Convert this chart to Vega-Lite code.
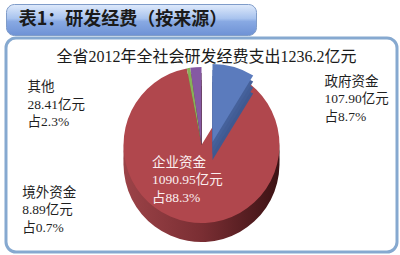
{
  "$schema": "https://vega.github.io/schema/vega-lite/v6.json",
  "background": "white",
  "padding": {"left": 4, "top": 3, "right": 4, "bottom": 4},
  "spacing": 0,
  "config": {"view": {"stroke": null}, "font": "Noto Sans CJK SC"},
  "vconcat": [
    {
      "width": 250,
      "height": 31,
      "view": {
        "fill": {
          "gradient": "linear", "x1": 0, "y1": 0, "x2": 0, "y2": 1,
          "stops": [
            {"offset": 0, "color": "#dfeafb"},
            {"offset": 0.45, "color": "#a8c3ee"},
            {"offset": 0.55, "color": "#88a9e3"},
            {"offset": 1, "color": "#6e92d5"}
          ]
        },
        "stroke": "#7f9cc9",
        "strokeWidth": 1,
        "cornerRadius": 8
      },
      "data": {"values": [{"heading": "表1：研发经费（按来源）"}]},
      "mark": {"type": "text", "font": "Noto Sans CJK SC", "fontSize": 18, "fontWeight": "bold", "color": "#1b1b1b", "dx": -8},
      "encoding": {"text": {"field": "heading", "type": "nominal"}}
    },
    {
      "width": 391,
      "height": 214,
      "view": {"fill": "white", "stroke": "#86a9d0", "strokeWidth": 3, "cornerRadius": 10},
      "title": {
        "text": "全省2012年全社会研发经费支出1236.2亿元",
        "font": "Liberation Serif, Noto Sans CJK SC",
        "fontSize": 16,
        "fontWeight": "normal",
        "color": "#1a1a1a",
        "anchor": "middle",
        "offset": -27,
        "dx": 5
      },
      "data": {
        "values": [
          {"source": "政府资金", "value": 107.90, "pct": 8.7, "idx": 1},
          {"source": "企业资金", "value": 1090.95, "pct": 88.3, "idx": 2},
          {"source": "境外资金", "value": 8.89, "pct": 0.7, "idx": 3},
          {"source": "其他", "value": 28.41, "pct": 2.3, "idx": 4}
        ]
      },
      "transform": [
        {"calculate": "[datum.source, format(datum.value, '.2f') + '亿元', '占' + format(datum.pct, '.1f') + '%']", "as": "label"}
      ],
      "encoding": {
        "theta": {"field": "value", "type": "quantitative", "stack": true},
        "order": {"field": "idx", "type": "quantitative"}
      },
      "layer": [
        {
          "mark": {"type": "arc", "radius": 78, "yOffset": 19,
            "fill": {"gradient": "linear", "x1": 0, "y1": 0, "x2": 1, "y2": 0,
              "stops": [{"offset": 0, "color": "#9c4348"}, {"offset": 0.5, "color": "#7a2e33"}, {"offset": 1, "color": "#3c1214"}]}},
          "encoding": {"fillOpacity": {"condition": {"test": "datum.source === '政府资金'", "value": 0}, "value": 1}}
        },
        {
          "mark": {"type": "arc", "radius": 78, "yOffset": 13,
            "fill": {"gradient": "linear", "x1": 0, "y1": 0, "x2": 1, "y2": 0,
              "stops": [{"offset": 0, "color": "#9c4348"}, {"offset": 0.5, "color": "#7a2e33"}, {"offset": 1, "color": "#3c1214"}]}},
          "encoding": {"fillOpacity": {"condition": {"test": "datum.source === '政府资金'", "value": 0}, "value": 1}}
        },
        {
          "mark": {"type": "arc", "radius": 78, "yOffset": 6,
            "fill": {"gradient": "linear", "x1": 0, "y1": 0, "x2": 1, "y2": 0,
              "stops": [{"offset": 0, "color": "#9c4348"}, {"offset": 0.5, "color": "#7a2e33"}, {"offset": 1, "color": "#3c1214"}]}},
          "encoding": {"fillOpacity": {"condition": {"test": "datum.source === '政府资金'", "value": 0}, "value": 1}}
        },
        {
          "mark": {"type": "arc", "radius": 78},
          "encoding": {
            "color": {"field": "source", "type": "nominal", "legend": null,
              "scale": {"domain": ["政府资金", "企业资金", "境外资金", "其他"], "range": ["#5b7bbd", "#b0474d", "#86b157", "#8559a3"]}},
            "fillOpacity": {"condition": {"test": "datum.source === '政府资金'", "value": 0}, "value": 1}
          }
        },
        {
          "mark": {"type": "arc", "radius": 78, "xOffset": 11, "yOffset": 15, "fill": "#3f5991"},
          "encoding": {"fillOpacity": {"condition": {"test": "datum.source !== '政府资金'", "value": 0}, "value": 1}}
        },
        {
          "mark": {"type": "arc", "radius": 78, "xOffset": 11, "yOffset": 9, "fill": "#425d96"},
          "encoding": {"fillOpacity": {"condition": {"test": "datum.source !== '政府资金'", "value": 0}, "value": 1}}
        },
        {
          "mark": {"type": "arc", "radius": 78, "xOffset": 11, "yOffset": 3, "fill": "#45619b"},
          "encoding": {"fillOpacity": {"condition": {"test": "datum.source !== '政府资金'", "value": 0}, "value": 1}}
        },
        {
          "mark": {"type": "arc", "radius": 78, "xOffset": 11, "yOffset": -3},
          "encoding": {
            "color": {"field": "source", "type": "nominal", "legend": null},
            "fillOpacity": {"condition": {"test": "datum.source !== '政府资金'", "value": 0}, "value": 1}
          }
        },
        {
          "mark": {"type": "text", "radius": 100, "align": "left", "baseline": "top", "dx": 96, "dy": 26,
            "font": "Liberation Serif, Noto Sans CJK SC", "fontSize": 13.5, "lineHeight": 17.5, "color": "#1f1f1f"},
          "encoding": {"text": {"condition": {"test": "datum.source === '政府资金'", "field": "label"}, "value": ""}}
        },
        {
          "mark": {"type": "text", "radius": 20, "align": "left", "baseline": "top", "dx": -46, "dy": -9,
            "font": "Liberation Serif, Noto Sans CJK SC", "fontSize": 13.5, "lineHeight": 17.5, "color": "#fbeff0"},
          "encoding": {"text": {"condition": {"test": "datum.source === '企业资金'", "field": "label"}, "value": ""}}
        },
        {
          "mark": {"type": "text", "radius": 110, "align": "left", "baseline": "top", "dx": -166, "dy": 45,
            "font": "Liberation Serif, Noto Sans CJK SC", "fontSize": 13.5, "lineHeight": 17.5, "color": "#1f1f1f"},
          "encoding": {"text": {"condition": {"test": "datum.source === '其他'", "field": "label"}, "value": ""}}
        },
        {
          "mark": {"type": "text", "radius": 110, "align": "left", "baseline": "top", "dx": -161, "dy": 149,
            "font": "Liberation Serif, Noto Sans CJK SC", "fontSize": 13.5, "lineHeight": 17.5, "color": "#1f1f1f"},
          "encoding": {"text": {"condition": {"test": "datum.source === '境外资金'", "field": "label"}, "value": ""}}
        }
      ]
    }
  ]
}
